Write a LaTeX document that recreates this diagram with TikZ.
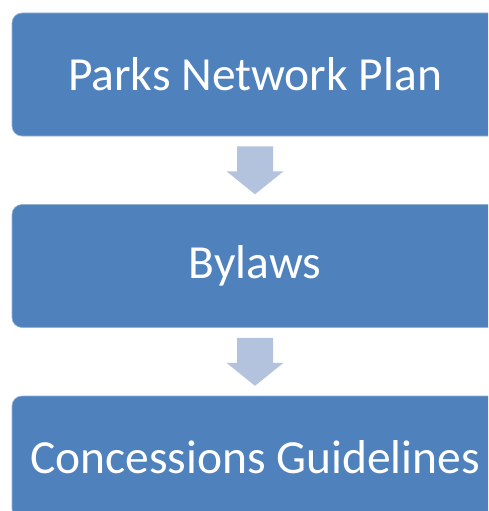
\documentclass[tikz,border=0pt]{standalone}
\usepackage{fontspec}
\setmainfont{Carlito}
\definecolor{boxblue}{HTML}{4F81BD}
\definecolor{arrowblue}{HTML}{B3C3DD}
\tikzset{
  stagebox/.style={fill=boxblue, draw=boxblue!60!white, line width=0.6pt, rounded corners=10pt,
    minimum width=486pt, minimum height=123pt, inner sep=0pt, text=white, font=\fontsize{47.5}{56}\selectfont},
  downarrow/.style={fill=arrowblue, draw=none},
}
\newcommand{\blockarrow}[1]{%
  \fill[downarrow] ($(#1)+(-18,0)$) -- ($(#1)+(18,0)$) -- ($(#1)+(18,25)$) -- ($(#1)+(28.5,25)$)
    -- ($(#1)+(0,48)$) -- ($(#1)+(-28.5,25)$) -- ($(#1)+(-18,25)$) -- cycle;}
\usetikzlibrary{calc}
\begin{document}
\begin{tikzpicture}[x=1pt,y=-1pt]
\useasboundingbox (0,0) rectangle (488,511);
\clip (0,0) rectangle (488,511);
\fill[white] (0,0) rectangle (488,511);
\node[stagebox] (plan) at (255,74.5) {Parks Network Plan};
\node[stagebox] (bylaws) at (255,266) {Bylaws};
\node[stagebox] (conc) at (255,457.5) {Concessions Guidelines};
\coordinate (a1) at ($(plan.south)+(0,10)$);
\coordinate (a2) at ($(bylaws.south)+(0,10)$);
\blockarrow{a1}
\blockarrow{a2}
\end{tikzpicture}
\end{document}
